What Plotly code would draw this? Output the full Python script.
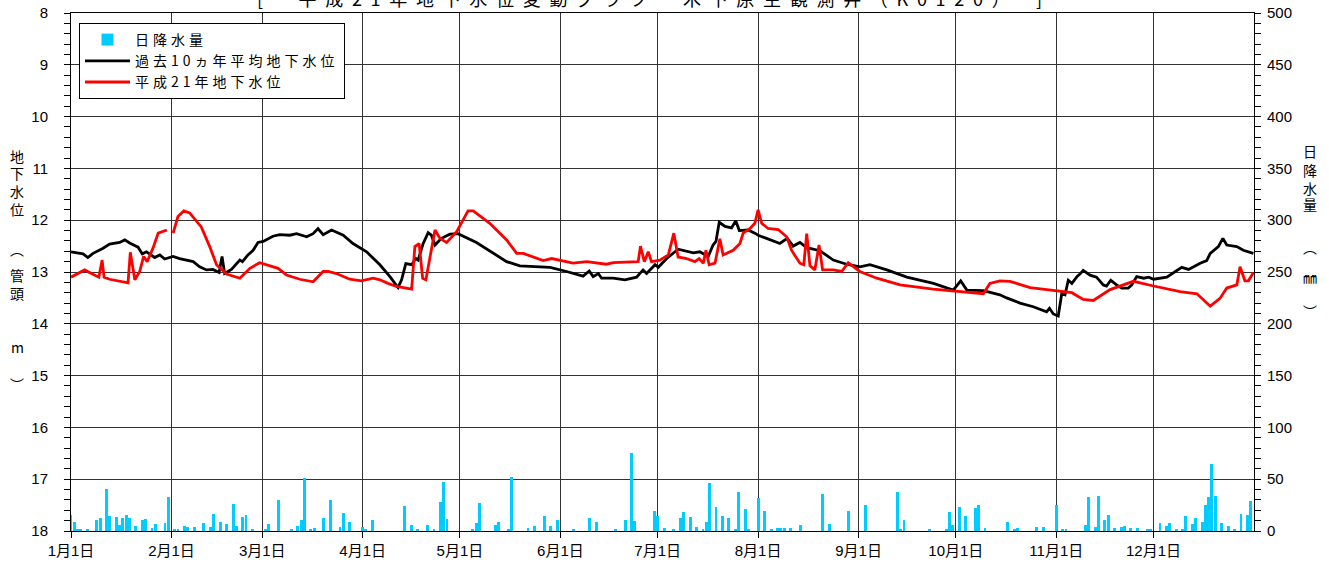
import plotly.graph_objects as go

# ---------------- data ----------------
# x axis: day of year 2009 (0 = 1月1日)
month_days = [0, 31, 59, 90, 120, 151, 181, 212, 243, 273, 304, 334]
month_labels = ["1月1日", "2月1日", "3月1日", "4月1日", "5月1日", "6月1日",
                "7月1日", "8月1日", "9月1日", "10月1日", "11月1日", "12月1日"]

# daily rainfall (mm)
rain_days = [0, 1, 2, 3, 5, 8, 9, 11, 12, 14, 15, 16, 17, 18, 20, 22, 23, 25, 26, 29, 30,
             32, 33, 35, 36, 38, 41, 43, 44, 46, 48, 50, 51, 53, 54, 56,
             60, 61, 64, 68, 70, 71, 72, 74, 75, 78, 80, 83, 84, 86,
             90, 91, 93, 103, 105, 107, 110, 112, 114, 115, 116,
             124, 125, 126, 131, 132, 135, 136, 141, 143, 146, 148, 150,
             155, 160, 162, 168, 171, 173, 174, 180,
             181, 183, 186, 188, 189, 191, 193, 195, 196, 197, 199, 201, 203, 205, 206, 208, 209,
             212, 214, 216, 218, 219, 220, 222, 225, 232, 234, 240,
             245, 255, 256, 257, 265, 270, 271, 272,
             274, 276, 279, 280, 282, 289, 291, 292, 298, 300,
             304, 306, 307, 313, 314, 316, 317, 319, 320, 322, 324, 325, 327, 329, 332, 333,
             336, 338, 339, 341, 343, 344, 346, 347, 349, 350, 351, 352, 353, 355, 357, 359,
             361, 363, 364]
rain_mm = [15.4, 8.4, 1.5, 1.0, 1.6, 10.6, 12.9, 40.2, 14.5, 13.2, 5.8, 12.2, 15.4, 12.2, 4.8, 10.6, 11.9, 2.9, 6.8, 7.4, 33.1,
           1.6, 1.0, 4.8, 3.5, 3.5, 8.0, 3.9, 16.1, 9.0, 6.4, 26.1, 4.8, 13.2, 15.4, 1.0,
           1.6, 6.4, 29.9, 1.6, 4.8, 10.6, 50.8, 1.6, 2.6, 12.2, 29.9, 3.5, 17.7, 8.4,
           3.5, 1.6, 10.6, 24.5, 5.8, 1.6, 5.5, 1.9, 28.0, 47.6, 11.3,
           1.9, 7.4, 26.7, 5.8, 8.4, 1.6, 51.8, 2.6, 4.8, 14.5, 4.8, 10.6,
           1.6, 12.2, 8.4, 1.6, 10.6, 75.5, 9.7, 19.3,
           14.5, 2.6, 1.0, 12.2, 18.3, 13.8, 3.5, 1.0, 9.0, 46.0, 22.8, 14.8, 12.9, 1.6, 38.0, 21.2, 1.0,
           31.5, 19.3, 1.0, 2.6, 2.6, 2.6, 2.6, 5.5, 35.4, 6.8, 19.3,
           24.8, 37.3, 1.6, 10.6, 1.0, 2.3, 18.7, 5.8,
           23.5, 14.8, 21.9, 25.1, 2.6, 8.4, 2.3, 2.6, 4.2, 3.5,
           24.8, 2.3, 1.0, 5.8, 33.1, 3.5, 34.1, 10.6, 15.4, 2.6, 4.2, 4.8, 3.2, 3.2, 2.3, 1.0,
           7.4, 4.8, 8.0, 1.0, 1.0, 14.8, 6.4, 12.2, 8.7, 25.1, 33.1, 64.7, 34.1, 8.0, 4.8, 1.6,
           16.4, 15.8, 29.3]

# past 10-year average groundwater level (m below casing top)
avg_days = [0, 3.7, 5.2, 6.8, 9.9, 11.9, 15.0, 16.6, 18.1, 20.7, 22.0, 23.3, 25.8, 27.4, 28.9,
            31.5, 33.5, 36.1, 37.7, 39.7, 41.8, 43.8, 45.7, 46.6, 47.4, 49.5, 52.1, 52.9, 54.6,
            56.2, 57.7, 59.3, 62.3, 64.4, 67.5, 69.6, 72.7, 74.7, 76.2, 77.8, 80.4, 84.0, 87.0,
            91.2, 95.3, 98.4, 100.9, 102.0, 103.3, 105.1, 106.4, 107.1, 108.6, 110.2, 111.2,
            112.3, 114.3, 116.9, 119.4, 125.1, 130.2, 134.4, 138.5, 143.6, 147.8, 152.9, 158.0,
            159.9, 161.1, 162.7, 163.7, 167.3, 170.9, 174.5, 176.5, 177.6, 180.2, 181.2, 183.8,
            187.3, 192.0, 194.0, 196.6, 198.1, 199.0, 200.0, 201.8, 203.8, 205.1, 206.2, 208.9,
            211.0, 212.0, 214.6, 218.7, 221.0, 222.8, 224.9, 227.0, 231.1, 235.2, 239.3, 243.4,
            246.5, 251.7, 257.9, 266.1, 272.2, 274.5, 276.4, 281.5, 286.6, 288.7, 292.8, 296.9,
            301.0, 301.9, 303.1, 304.6, 305.7, 306.7, 307.7, 308.8, 310.5, 311.3, 312.3, 314.4,
            316.4, 318.5, 319.5, 320.8, 322.6, 324.2, 326.2, 327.3, 328.8, 331.0, 332.5, 334.0,
            338.1, 340.2, 342.7, 344.8, 348.4, 350.4, 351.5, 354.0, 355.4, 356.6, 359.7, 361.7,
            364.8]
avg_level = [12.61, 12.65, 12.72, 12.64, 12.54, 12.46, 12.43, 12.38, 12.44, 12.52, 12.65, 12.61, 12.72, 12.67, 12.75,
             12.70, 12.74, 12.78, 12.80, 12.90, 12.96, 12.95, 13.01, 12.70, 13.03, 12.95, 12.77, 12.80, 12.67,
             12.58, 12.43, 12.41, 12.31, 12.28, 12.29, 12.26, 12.32, 12.26, 12.16, 12.28, 12.19, 12.29, 12.45,
             12.61, 12.86, 13.09, 13.30, 13.15, 12.84, 12.86, 12.74, 12.77, 12.46, 12.24, 12.29,
             12.48, 12.35, 12.27, 12.26, 12.43, 12.64, 12.80, 12.88, 12.90, 12.91, 12.99, 13.08,
             12.98, 13.09, 13.03, 13.12, 13.12, 13.15, 13.10, 12.96, 13.03, 12.86, 12.91, 12.74,
             12.56, 12.63, 12.61, 12.70, 12.48, 12.41, 12.04, 12.12, 12.15, 12.01, 12.20, 12.19,
             12.25, 12.29, 12.35, 12.45, 12.35, 12.50, 12.43, 12.53, 12.59, 12.77, 12.85, 12.90,
             12.86, 12.96, 13.10, 13.22, 13.35, 13.17, 13.35, 13.36, 13.44, 13.50, 13.60, 13.67,
             13.77, 13.70, 13.81, 13.85, 13.41, 13.44, 13.16, 13.22, 13.08, 13.04, 12.97, 13.06,
             13.10, 13.25, 13.27, 13.16, 13.25, 13.31, 13.31, 13.25, 13.09, 13.12, 13.10, 13.14,
             13.10, 13.02, 12.91, 12.95, 12.83, 12.78, 12.64, 12.51, 12.35, 12.48, 12.51, 12.58,
             12.64]

# Heisei 21 (2009) groundwater level; None = missing data
h21_days = [0, 4.2, 6.3, 8.6, 9.6, 10.2, 11.9, 17.6, 18.3, 19.7, 21.2, 22.4, 23.5, 25.3, 26.9, 29.6,
            30.5,
            31.5, 33.0, 34.8, 36.6, 40.2, 42.8, 44.9, 48.0, 52.1, 55.2, 58.2, 60.3, 63.9, 66.5,
            70.6, 74.7, 77.8, 79.3, 81.9, 86.0, 89.6, 93.2, 95.3, 97.8, 100.4, 105.1, 106.1,
            107.4, 108.5, 109.5, 112.3, 113.8, 115.9, 119.0, 122.5, 124.1, 129.2, 134.4, 137.5,
            139.5, 145.7, 148.3, 154.9, 159.1, 165.2, 167.3, 172.4, 175.0, 175.7, 176.9, 178.1,
            179.1, 181.7, 184.3, 186.0, 187.3, 189.9, 192.5, 193.8, 195.1, 195.9, 196.9, 198.7,
            200.2, 201.2, 204.3, 206.4, 207.4, 209.5, 211.0, 212.0, 213.1, 215.1, 218.2, 220.8,
            222.3, 224.9, 226.1, 227.0, 228.0, 229.5, 230.8, 231.9, 235.2, 237.8, 239.8, 243.4,
            248.6, 255.8, 266.0, 281.5, 283.5, 286.6, 289.7, 295.9, 304.1, 308.8, 312.3, 315.4,
            320.6, 327.8, 334.0, 342.2, 347.4, 351.5, 354.5, 356.6, 359.7, 360.7, 362.2, 363.3,
            364.8]
h21_level = [13.10, 12.96, 13.03, 13.10, 12.77, 13.10, 13.14, 13.21, 12.62, 13.15, 12.99, 12.70, 12.80, 12.54, 12.25, 12.19,
             None,
             12.25, 11.93, 11.82, 11.86, 12.13, 12.51, 12.86, 13.04, 13.12, 12.93, 12.82, 12.86, 12.93, 13.06,
             13.14, 13.19, 12.99, 12.99, 13.03, 13.14, 13.17, 13.12, 13.15, 13.22, 13.28, 13.33, 12.51,
             12.45, 13.12, 13.15, 12.19, 12.35, 12.43, 12.22, 11.82, 11.82, 12.06, 12.38, 12.64,
             12.64, 12.78, 12.74, 12.83, 12.80, 12.85, 12.82, 12.80, 12.80, 12.50, 12.80, 12.61,
             12.80, 12.77, 12.67, 12.25, 12.71, 12.74, 12.80, 12.74, 12.83, 12.58, 12.86, 12.83,
             12.36, 12.67, 12.58, 12.45, 12.25, 12.16, 12.06, 11.80, 12.06, 12.16, 12.18, 12.32,
             12.58, 12.83, 12.86, 12.26, 12.88, 12.96, 12.48, 12.96, 12.96, 12.99, 12.82, 12.99,
             13.12, 13.25, 13.33, 13.42, 13.22, 13.17, 13.18, 13.30, 13.36, 13.40, 13.53, 13.55,
             13.34, 13.18, 13.27, 13.38, 13.42, 13.66, 13.51, 13.31, 13.25, 12.90, 13.17, 13.17,
             13.01]

title_text = "[　平成21年地下水位変動グラフ　木下原生観測井（K0120）　]"
series_names = ["日降水量", "過去10ヵ年平均地下水位", "平成21年地下水位"]
left_title = ["地", "下", "水", "位", "︵", "管", "頭", "m", "︶"]
right_title = ["日", "降", "水", "量", "︵", "㎜", "︶"]

# ---------------- layout helpers ----------------
W, H = 1329, 566
ML, MR, MT, MB = 71, 75, 13, 35
PW, PH = W - ML - MR, H - MT - MB


def px_x(px):
    return (px - ML) / PW


def px_y(py):
    return (H - MB - py) / PH


def spaced(text, px):
    return f'<span style="letter-spacing:{px}px">{text}</span>'


CJK = "Noto Sans CJK JP"
TICKFONT = dict(family="Liberation Sans, Noto Sans CJK JP, sans-serif", size=15, color="black")
GRID = "#333333"

fig = go.Figure()

fig.add_trace(go.Bar(
    x=rain_days, y=rain_mm, name=spaced(series_names[0], 4), yaxis="y",
    marker=dict(color="#00CCFF", line=dict(width=0)), width=0.9,
))
fig.add_trace(go.Scatter(
    x=avg_days, y=avg_level, name=spaced(series_names[1], 4), yaxis="y2",
    mode="lines", line=dict(color="black", width=2.8),
))
fig.add_trace(go.Scatter(
    x=h21_days, y=h21_level, name=spaced(series_names[2], 4), yaxis="y2",
    mode="lines", line=dict(color="#FF0000", width=2.8), connectgaps=False,
))

annotations = [dict(
    text=spaced(title_text, 8.7), xref="paper", yref="paper", x=px_x(654), y=px_y(-2),
    xanchor="center", yanchor="middle", showarrow=False,
    font=dict(family=CJK, size=18, color="black"),
)]
left_y = [156, 173, 191, 209, 249, 275, 293, 347, 384]
for ch, py in zip(left_title, left_y):
    annotations.append(dict(text=ch, xref="paper", yref="paper", x=px_x(17), y=px_y(py),
                            xanchor="center", yanchor="middle", showarrow=False,
                            font=dict(family=CJK, size=14, color="black")))
right_y = [151, 170, 188, 204, 247, 277, 311]
for ch, py in zip(right_title, right_y):
    annotations.append(dict(text=ch, xref="paper", yref="paper", x=px_x(1310), y=px_y(py),
                            xanchor="center", yanchor="middle", showarrow=False,
                            font=dict(family=CJK, size=14, color="black")))

fig.update_layout(
    width=W, height=H,
    margin=dict(l=ML, r=MR, t=MT, b=MB, pad=0, autoexpand=False),
    paper_bgcolor="white", plot_bgcolor="white",
    showlegend=True,
    bargap=0,
    xaxis=dict(
        range=[0, 365], tickmode="array", tickvals=month_days, ticktext=month_labels,
        showgrid=True, gridcolor=GRID, gridwidth=1, zeroline=False, automargin=False,
        showline=True, linecolor="black", linewidth=1, mirror=True,
        ticks="outside", ticklen=6, tickcolor="black", tickfont=TICKFONT,
    ),
    yaxis=dict(
        range=[0, 500], dtick=50, side="right", showgrid=False, zeroline=False,
        automargin=False, showline=True, linecolor="black", linewidth=1,
        ticks="outside", ticklen=6, tickcolor="black", tickfont=TICKFONT,
        ticklabelstandoff=3,
        minor=dict(dtick=10, ticks="outside", ticklen=6, tickcolor="black", showgrid=False),
    ),
    yaxis2=dict(
        range=[18, 8], dtick=1, side="left", overlaying="y", showgrid=True,
        gridcolor=GRID, gridwidth=1, zeroline=False, automargin=False,
        showline=True, linecolor="black", linewidth=1,
        ticks="outside", ticklen=6, tickcolor="black", tickfont=TICKFONT,
        ticklabelstandoff=13,
        minor=dict(dtick=0.2, ticks="outside", ticklen=6, tickcolor="black", showgrid=False),
    ),
    legend=dict(
        x=px_x(79), y=px_y(23), xanchor="left", yanchor="top",
        bgcolor="white", bordercolor="black", borderwidth=1,
        font=dict(family=CJK, size=14, color="black"),
        tracegroupgap=0, itemwidth=45,
    ),
    annotations=annotations,
)

fig.write_html("out.html", config={"displayModeBar": False},
               post_script="document.body.style.margin='0px';")
